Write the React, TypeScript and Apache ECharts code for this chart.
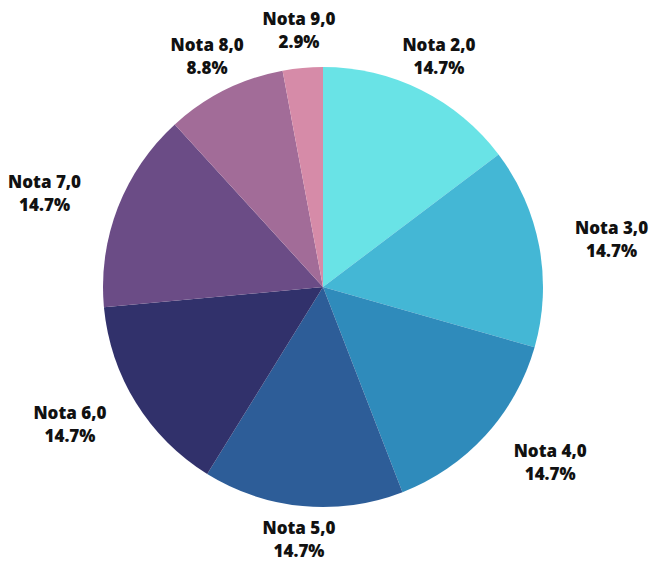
import React, { useEffect, useRef } from "react";
import * as echarts from "echarts";

const categories = ["Nota 2,0", "Nota 3,0", "Nota 4,0", "Nota 5,0", "Nota 6,0", "Nota 7,0", "Nota 8,0", "Nota 9,0"];
const counts = [5, 5, 5, 5, 5, 5, 3, 1];
const colors = ["#69e3e6", "#44b7d5", "#2f8bbb", "#2d5d98", "#31316b", "#6b4c86", "#a26c98", "#d68ba8"];
const labelShiftX = [0, 33, 35, 0, -32, -36, 0, 0];
const labelShiftY = [2, 0, 0, -7, 0, 0, 2, 2];

export default function App() {
  const ref = useRef<HTMLDivElement>(null);
  useEffect(() => {
    document.body.style.margin = "0";
    const chart = echarts.init(ref.current!, null, { renderer: "svg" });
    const total = counts.reduce((a, b) => a + b, 0);
    chart.setOption({
      animation: false,
      series: [
        {
          type: "pie",
          center: [323, 287],
          radius: [0, 220],
          startAngle: 90,
          clockwise: true,
          silent: true,
          label: { show: false },
          labelLine: { show: false },
          data: categories.map((c, i) => ({ name: c, value: counts[i], itemStyle: { color: colors[i] } })),
        },
        {
          type: "pie",
          center: [323, 287],
          radius: [0, 514],
          startAngle: 90,
          clockwise: true,
          silent: true,
          itemStyle: { color: "rgba(0,0,0,0)" },
          labelLine: { show: false },
          label: {
            show: true,
            position: "inside",
            formatter: (p: any) => `${p.name}\n${((p.value / total) * 100).toFixed(1)}%`,
            fontFamily: "Open Sans",
            fontWeight: 800,
            fontSize: 17,
            lineHeight: 23,
            color: "#111111",
          },
          data: categories.map((c, i) => ({
            name: c,
            value: counts[i],
            label: { offset: [labelShiftX[i], labelShiftY[i]] },
          })),
        },
      ],
    });
    return () => chart.dispose();
  }, []);
  return <div ref={ref} style={{ position: "absolute", left: 0, top: 0, width: 651, height: 563 }} />;
}
